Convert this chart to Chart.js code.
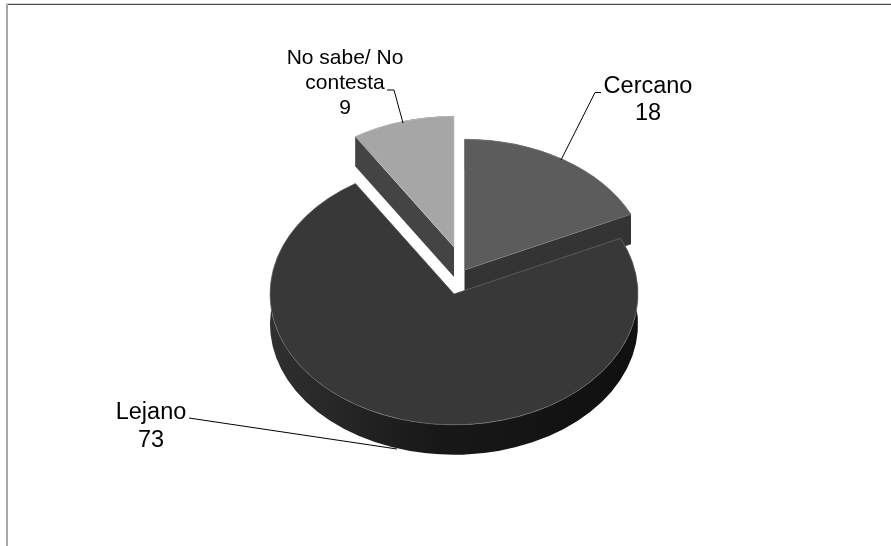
<!DOCTYPE html>
<html>
<head>
<meta charset="utf-8">
<style>html,body{margin:0;padding:0;background:#fff}canvas{display:block}</style>
<script src="https://cdn.jsdelivr.net/npm/chart.js@4"></script>
</head>
<body>
<canvas id="c" width="891" height="546"></canvas>
<script>
const categories = ['Cercano', 'Lejano', 'No sabe/ No contesta'];
const values = [18, 73, 9];
const labelLines = [['Cercano', '18'], ['Lejano', '73'], ['No sabe/ No', 'contesta', '9']];

const topColors = ['#5c5c5c', '#383838', '#a6a6a6'];
const edgeColors = ['#808080', '#707070', '#c4c4c4'];
const wallColors = ['#343434', null, '#444444'];
const wallStops = [[0, '#303030'], [0.45, '#181818'], [1, '#101010']];

const squash = 0.711;
const depth = 30;
const sliceShift = [[10.5, -24], [0, 0], [0, -47]];
const paintOrder = [2, 0, 1];

const labelPlace = [
  {x: 648, y: 93, size: 23.5, lead: 27, line: [[561, 160], [595, 92.5], [601, 92.5]]},
  {x: 151, y: 419, size: 23.5, lead: 28, line: [[189, 418], [199, 419.5], [397, 449]]},
  {x: 345, y: 64, size: 21, lead: 25, line: [[387, 90], [394, 90], [403, 123]]}
];

const pie3d = {
  id: 'pie3d',
  beforeDraw(chart) {
    const c = chart.ctx;
    c.save();
    c.fillStyle = '#d8d8d8'; c.fillRect(6, 3, 885, 1);
    c.fillStyle = '#484848'; c.fillRect(6, 4, 885, 1);
    c.fillStyle = '#a8a8a8'; c.fillRect(6, 4, 2, 542);
    c.restore();
  },
  beforeDatasetDraw(chart) {
    const c = chart.ctx;
    const arcs = chart.getDatasetMeta(0).data;
    paintOrder.forEach(i => {
      const a = arcs[i];
      const [dx, dy] = sliceShift[i];
      const cx = a.x + dx, cy = a.y + dy;
      const rx = a.outerRadius, ry = rx * squash;
      c.save();
      let wall = wallColors[i];
      if (!wall) {
        wall = c.createLinearGradient(cx - rx, 0, cx + rx, 0);
        wallStops.forEach(s => wall.addColorStop(s[0], s[1]));
      }
      c.fillStyle = wall;
      c.beginPath();
      c.ellipse(cx, cy + depth, rx, ry, 0, a.startAngle, a.endAngle);
      c.ellipse(cx, cy, rx, ry, 0, a.endAngle, a.startAngle, true);
      c.closePath();
      c.fill();
      [a.startAngle, a.endAngle].forEach(t => {
        const ex = cx + rx * Math.cos(t), ey = cy + ry * Math.sin(t);
        c.beginPath();
        c.moveTo(cx, cy); c.lineTo(ex, ey);
        c.lineTo(ex, ey + depth); c.lineTo(cx, cy + depth);
        c.closePath();
        c.fill();
      });
      c.translate(cx, cy);
      c.scale(1, squash);
      c.translate(-a.x, -a.y);
      a.draw(c);
      c.restore();
    });
    return false;
  },
  afterDatasetsDraw(chart) {
    const c = chart.ctx;
    c.save();
    labelPlace.forEach((p, i) => {
      c.strokeStyle = '#000';
      c.lineWidth = 1;
      c.beginPath();
      p.line.forEach((q, k) => k ? c.lineTo(q[0], q[1]) : c.moveTo(q[0], q[1]));
      c.stroke();
      c.fillStyle = '#000';
      c.font = p.size + 'px "Liberation Sans", Arial, sans-serif';
      c.textAlign = 'center';
      c.textBaseline = 'alphabetic';
      labelLines[i].forEach((t, k) => c.fillText(t, p.x, p.y + k * p.lead));
    });
    c.restore();
  }
};

new Chart(document.getElementById('c'), {
  type: 'pie',
  data: {
    labels: categories,
    datasets: [{
      data: values,
      backgroundColor: topColors,
      borderColor: edgeColors,
      borderWidth: 0.8,
      radius: 184
    }]
  },
  options: {
    responsive: false,
    animation: false,
    layout: {padding: {left: 17, top: 42}},
    plugins: {legend: {display: false}, tooltip: {enabled: false}}
  },
  plugins: [pie3d]
});
</script>
</body>
</html>
